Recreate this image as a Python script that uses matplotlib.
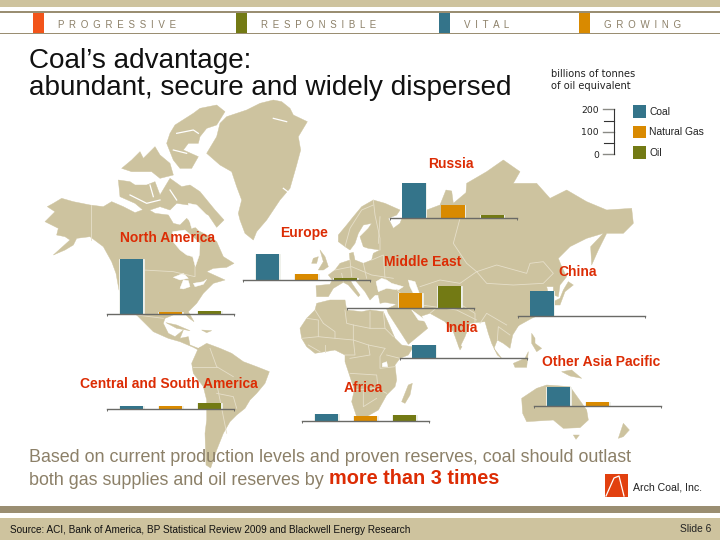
import matplotlib
matplotlib.use("Agg")
import matplotlib.pyplot as plt
from matplotlib.patches import Polygon, Rectangle

plt.rcParams['font.family'] = ['Liberation Sans', 'DejaVu Sans']

# ---------- data (billions of tonnes of oil equivalent) ----------
fuels = ['Coal', 'Natural Gas', 'Oil']
fuel_colors = ['#34748a', '#d98a00', '#737a14']
regions = ['North America', 'Europe', 'Central and South America', 'Africa',
           'Russia', 'Middle East', 'China', 'India', 'Other Asia Pacific']
coal = [245, 114, 13, 31, 158, 0, 111, 58, 84]
gas = [10, 25, 10, 21, 59, 67, 0, 0, 15]
oil = [13, 7, 25, 24, 15, 101, 0, 0, 0]
chart_left = [107, 243, 107, 302, 389.5, 347, 517.5, 399.5, 534]
chart_base = [314.3, 279.7, 408.7, 420.8, 218.3, 308.3, 316, 358.3, 405.7]
label_xy = [(168, 238), (304.5, 232), (168.5, 384), (363.5, 388), (451, 163),
            (423, 261), (578, 271), (461, 327), (601, 362)]
tabs = ['PROGRESSIVE', 'RESPONSIBLE', 'VITAL', 'GROWING']
tab_x = [32.5, 235.5, 439, 579]
tab_colors = ['#f2541a', '#737a14', '#34748a', '#d98a00']

W, H = 720, 540
PX_PER_UNIT = 45 / 200
TAN = '#cec39e'; MAP = '#cdc39f'; TAUPE = '#9a8e72'; BORD = '#e6dfca'; RED = '#dc2c04'

def crop(ox, oy):
    return lambda pts: [(ox + x / 3, oy + y / 3) for x, y in pts]
z4 = crop(60, 100); z5 = crop(340, 130); zA = crop(300, 195)
zB = crop(40, 190); zC = crop(295, 295); zD = crop(420, 280)

eurasia = (
 zA([(48,272),(90,268),(97,255),(85,240),(105,225),(120,205),(150,195),(148,175),(160,172),(165,195),(190,205),(215,195),(220,175),(240,165),(205,160),(190,155),(180,125),(205,100),(215,85),(190,90),(175,115),(165,145),(150,165),(135,155),(115,140),(115,120),(140,90),(160,65),(185,35),(220,15),(255,25),(300,45),(290,60),(265,70),(280,100),(300,85),(305,72)])
 + z5([(260,240),(300,225),(318,180),(335,183),(340,220),(378,188),(380,160),(440,125),(490,90),(540,125),(520,160),(590,160),(630,205),(680,180),(740,215),(800,240),(875,235),(880,280),(850,310),(800,310),(775,360),(755,405),(752,350),(790,310),(740,325),(690,350),(655,385),(665,410),(680,440),(660,465),(655,500),(640,495),(640,470),(620,470),(625,490),(640,520),(620,545),(575,565),(530,590)])
 + zD([(300,130),(278,165),(270,205),(250,190),(232,180),(222,205),(245,235),(232,225),(215,190),(205,160),(195,125),(165,128),(150,130),(135,170),(118,205),(100,155),(75,125),(30,100),(5,108)])
 + zC([(398,100),(340,148),(280,55),(275,42)])
 + zA([(290,328),(255,322),(240,325),(235,300),(225,300),(210,315),(195,290),(165,255),(148,250),(158,268),(180,300),(175,305),(145,270),(130,262),(100,280),(85,305),(50,305)])
)
land = [
 eurasia,
 z4([(600,10),(640,0),(665,5),(690,25),(700,45),(742,65),(715,110),(722,150),(710,195),(700,230),(690,265),(660,300),(620,360),(590,395),(580,420),(555,400),(540,360),(535,340),(545,300),(530,260),(515,215),(480,195),(440,160),(470,110),(480,70),(500,50),(560,30)]),
 zB([(15,95),(45,65),(22,50),(40,40),(65,25),(100,35),(150,45),(190,50),(215,35),(250,50),(285,68),(320,55),(345,70),(385,75),(400,100),(420,105),(440,85),(475,122),(510,140),(530,155),(550,200),(582,220),(560,232),(520,235),(500,245),(555,270),(520,280),(490,310),(470,340),(445,365),(462,395),(448,385),(438,375),(400,375),(375,385),(370,400),(385,430),(405,440),(430,420),(420,445),(445,440),(450,465),(475,475),(490,470),(475,480),(460,472),(420,455),(385,445),(340,425),(310,395),(290,375),(237,300),(228,250),(215,215),(190,170),(150,140),(110,145),(100,165),(75,180),(40,195),(90,150),(75,140),(50,135),(55,115)]),
 z4([(415,745),(440,730),(480,745),(515,760),(550,785),(590,800),(628,815),(615,850),(590,880),(570,900),(555,925),(530,945),(510,965),(490,1000),(470,1050),(452,1104),(438,1095),(435,1000),(440,960),(440,900),(430,860),(400,820),(395,790)]),
 z4([(330,100),(345,75),(400,40),(420,25),(470,15),(495,35),(470,75),(440,85),(420,110),(415,130),(385,130),(370,150),(415,170),(395,205),(360,205),(340,180),(320,130)]),
 z4([(240,155),(250,175),(285,140),(300,165),(330,190),(340,225),(300,235),(275,215),(255,215),(215,215),(185,205),(215,180)]),
 z4([(175,240),(210,245),(225,255),(260,255),(285,245),(300,285),(330,235),(365,260),(390,255),(420,275),(465,330),(492,360),(470,382),(445,345),(405,335),(385,315),(350,310),(330,330),(300,320),(255,335),(225,310),(180,290)]),
 zA([(60,165),(75,185),(85,215),(70,225),(55,225),(70,200)]),
 zA([(40,190),(55,185),(50,205),(35,205)]),
 z4([(318,668),(350,675),(390,692),(350,685)]),
 z4([(425,690),(455,692),(440,698)]),
 zC([(15,100),(35,70),(60,45),(65,25),(105,15),(150,15),(155,45),(200,50),(225,45),(265,50),(285,95),(300,130),(320,150),(350,155),(352,160),(340,180),(315,190),(300,210),(305,255),(300,275),(275,300),(250,345),(215,365),(185,365),(170,320),(178,285),(165,245),(150,200),(150,180),(120,165),(60,175),(35,155),(20,130)]),
 zC([(320,320),(340,270),(352,265),(345,300),(330,325)]),
 zD([(445,5),(460,15),(435,35),(420,75),(405,75),(400,65),(420,55),(430,30)]),
 zD([(280,250),(315,235),(325,215),(320,262),(285,262)]),
 zD([(335,160),(345,175),(345,190),(365,205),(350,215),(335,190)]),
 z5([(665,725),(695,720),(725,745),(690,738)]),
 z5([(545,805),(590,775),(620,765),(690,770),(740,840),(745,870),(720,893),(670,895),(640,870),(560,875),(548,850)]),
 z5([(700,915),(718,915),(708,928)]),
 z5([(835,925),(850,880),(868,900),(850,920)]),
 z5([(355,640),(366,650),(360,660)]),
]
water = [
 z4([(338,395),(375,390),(392,405),(420,430),(418,465),(406,500),(398,470),(380,465),(360,450),(335,420)]),
 z4([(385,310),(410,315),(440,345),(425,375),(395,385),(385,350)]),
 zB([(400,262),(430,250),(445,265),(420,270)]),
 zB([(420,295),(430,270),(445,272),(450,290),(430,297)]),
 zB([(460,280),(490,275),(500,268),(490,283),(465,290)]),
 zA([(228,260),(245,250),(260,255),(275,265),(310,275),(295,285),(260,280),(235,290)]),
 z5([(205,450),(225,455),(238,490),(220,490),(210,470)]),
 z5([(215,540),(245,562),(262,575),(235,570)]),
 zC([(262,205),(275,200),(278,215),(262,215)]),
]
channels = [
 z4([(210,285),(260,310),(300,300)]), z4([(330,270),(350,300)]), z4([(270,255),(280,290)]),
 z4([(350,100),(400,90),(415,100)]), z4([(340,150),(380,160)]), z4([(640,55),(680,65)]),
 z4([(670,265),(690,280)]), z4([(360,230),(400,240)]),
]
borders = [
 z4([(92,315),(92,420)]), z4([(250,510),(340,515),(405,530),(405,500)]), zB([(290,375),(370,385)]),
 zC([(35,70),(70,75),(70,125),(120,130),(120,110),(85,85)]), zC([(60,45),(85,85)]),
 zC([(150,45),(155,85),(175,90),(225,100),(225,50)]), zC([(225,100),(270,100),(265,50)]),
 zC([(175,90),(175,135),(220,150),(270,160)]), zC([(120,130),(175,135),(180,180),(150,180)]),
 zC([(20,130),(70,125)]), zC([(270,100),(295,125)]), zC([(270,160),(255,185),(255,220),(300,215)]),
 zC([(220,150),(225,180),(165,190)]), zC([(165,235),(245,240),(250,290)]),
 zC([(175,285),(245,280),(275,295)]), zC([(205,290),(205,335),(245,310)]),
 zC([(40,150),(75,170)]), zC([(90,150),(90,170)]), zC([(315,190),(275,180)]),
 zA([(135,155),(150,100),(185,45),(220,30)]), zA([(220,15),(225,60),(240,130),(240,165)]),
 zA([(190,205),(200,250)]), zA([(150,195),(155,245)]), zA([(105,225),(155,215),(215,240),(280,250)]),
 zA([(215,195),(250,180),(255,250)]), zA([(130,262),(125,235)]),
 z5([(360,265),(340,340),(380,400),(410,425)]),
 z5([(410,425),(470,405),(560,430),(570,400),(610,395),(640,430),(610,460),(520,465),(440,460),(410,425)]),
 z5([(240,470),(300,450),(360,460),(410,425)]), z5([(170,478),(210,520),(280,530),(350,540),(410,570)]),
 z5([(120,260),(115,340)]),
 zD([(30,100),(60,75),(100,60),(165,100),(165,128)]), zD([(180,130),(200,100),(260,135)]),
 zD([(232,180),(235,140),(270,165)]),
 z4([(450,745),(470,800),(520,830)]), z4([(400,800),(470,800)]), z4([(470,880),(520,890),(530,925)]),
 z4([(470,850),(500,1000)]),
]

fig = plt.figure(figsize=(7.2, 5.4), dpi=100, facecolor='white')
ax = fig.add_axes([0, 0, 1, 1], zorder=1)
ax.set_xlim(0, W); ax.set_ylim(H, 0); ax.axis('off')

for p in land:
    ax.add_patch(Polygon(p, closed=True, fc=MAP, ec=MAP, lw=0.3, joinstyle='round', zorder=1))
for p in water:
    ax.add_patch(Polygon(p, closed=True, fc='white', ec='white', lw=0.3, zorder=2))
for p in channels:
    ax.plot(*zip(*p), color='white', lw=0.9, zorder=2)
for p in borders:
    ax.plot(*zip(*p), color=BORD, lw=0.6, zorder=3)

ax.add_patch(Rectangle((0, 0), W, 7, fc=TAN, ec='none'))
ax.add_patch(Rectangle((0, 10.7), W, 2.2, fc=TAUPE, ec='none'))
ax.add_patch(Rectangle((0, 33), W, 0.9, fc=TAUPE, ec='none'))
ax.add_patch(Rectangle((0, 506), W, 7, fc=TAUPE, ec='none'))
ax.add_patch(Rectangle((0, 518), W, 22, fc=TAN, ec='none'))
for x, c in zip(tab_x, tab_colors):
    ax.add_patch(Rectangle((x, 13), 11, 20, fc=c, ec='none'))

# one small chart per region, sharing a single value scale
XSPAN = 127
for i, r in enumerate(regions):
    left, base = chart_left[i], chart_base[i]
    hh = 80
    a = fig.add_axes([left / W, 1 - base / H, XSPAN / W, hh / H], zorder=2)
    a.patch.set_alpha(0)
    a.set_xlim(-24.5 / 39, 2.628)
    a.set_ylim(0, hh / PX_PER_UNIT)
    vals = [coal[i], gas[i], oil[i]]
    for j, v in enumerate(vals):
        if v > 0:
            # pale halo behind, solid fill on top so thin bars keep their colour
            a.bar(j, v, width=0.62, color='#eef0ea', edgecolor='#eef0ea', linewidth=0.6, clip_on=False, zorder=2)
            a.bar(j, v, width=0.59, color=fuel_colors[j], linewidth=0, clip_on=False, zorder=3)
    for s in ['top', 'left', 'right']:
        a.spines[s].set_visible(False)
    a.spines['bottom'].set_color('#6a6a66'); a.spines['bottom'].set_linewidth(1.0)
    a.spines['bottom'].set_zorder(4)
    a.set_xticks([-24.5 / 39, 2.628]); a.set_xticklabels([])
    a.set_yticks([])
    a.tick_params(axis='x', length=1.6, width=0.7, color='#6a6a66')

top = fig.add_axes([0, 0, 1, 1], zorder=5)
top.set_xlim(0, W); top.set_ylim(H, 0); top.axis('off'); top.patch.set_alpha(0)

for x, t in zip(tab_x, tabs):
    top.text(x + 25.5, 25, ' \u2009'.join(t), color='#8c8068', fontsize=7, va='center', ha='left')

top.text(29, 68, 'Coal\u2019s advantage:', fontsize=20.1, color='#111111', va='baseline')
top.text(29, 95, 'abundant, secure and widely dispersed', fontsize=20.1, color='#111111', va='baseline')

top.text(551, 74, 'billions of tonnes', fontsize=7.15, family='DejaVu Sans', color='#222222', va='center')
top.text(551, 86, 'of oil equivalent', fontsize=7.15, family='DejaVu Sans', color='#222222', va='center')
scale_vals = [200, 100, 0]
leg0 = 154.3
lg = fig.add_axes([603 / W, 1 - leg0 / H, 11 / W, 45 / H], zorder=5)
lg.patch.set_alpha(0)
lg.set_xlim(0, 1); lg.set_ylim(0, 200)
for s in ['top', 'left', 'bottom']:
    lg.spines[s].set_visible(False)
lg.spines['right'].set_color('#333333'); lg.spines['right'].set_linewidth(0.8)
lg.set_xticks([])
lg.set_yticks(scale_vals); lg.set_yticklabels([str(v) for v in scale_vals], family='DejaVu Sans', fontsize=6.7, color='#222222')
lg.tick_params(axis='y', length=0, pad=3)
for v, c in [(200, '#8a8a85'), (100, '#8a8a85'), (0, '#8a8a85')]:
    lg.plot([0, 1], [v, v], color=c, lw=1.0, clip_on=False)
for v in [150, 50]:
    lg.plot([0.1, 1], [v, v], color='#333333', lw=0.8, clip_on=False)
for name, c, y in zip(fuels, fuel_colors, [105, 125.7, 146]):
    top.add_patch(Rectangle((632.7, y), 13.3, 12.6, fc=c, ec='none'))
    top.text(649, y + 6.7, name, fontsize=7.4, color='#222222', va='center')

for r, (x, y) in zip(regions, label_xy):
    top.text(x, y + 0.5, r, color=RED, fontsize=10, fontweight='bold', ha='center', va='center')

top.text(29, 461.5, 'Based on current production levels and proven reserves, coal should outlast',
         fontsize=12.88, color='#8c8068', va='baseline')
top.text(29, 485, 'both gas supplies and oil reserves by', fontsize=12.88, color='#8c8068', va='baseline')
top.text(329, 484.5, 'more than 3 times', fontsize=14.3, color=RED, fontweight='bold', va='baseline')

top.add_patch(Rectangle((605, 474), 23, 23, fc='#e2400f', ec='none'))
top.plot([606, 614, 619, 624], [496, 478, 476, 496], color='white', lw=0.9)
top.text(633, 487, 'Arch Coal, Inc.', fontsize=7.6, color='#222222', va='center')

top.text(10, 533, 'Source: ACI, Bank of America, BP Statistical Review 2009 and Blackwell Energy Research',
         fontsize=7.2, color='#111111', va='baseline')
top.text(711, 532.5, 'Slide 6', fontsize=7.4, color='#222222', va='baseline', ha='right')

fig.savefig('out.png', dpi=100, facecolor='white')
